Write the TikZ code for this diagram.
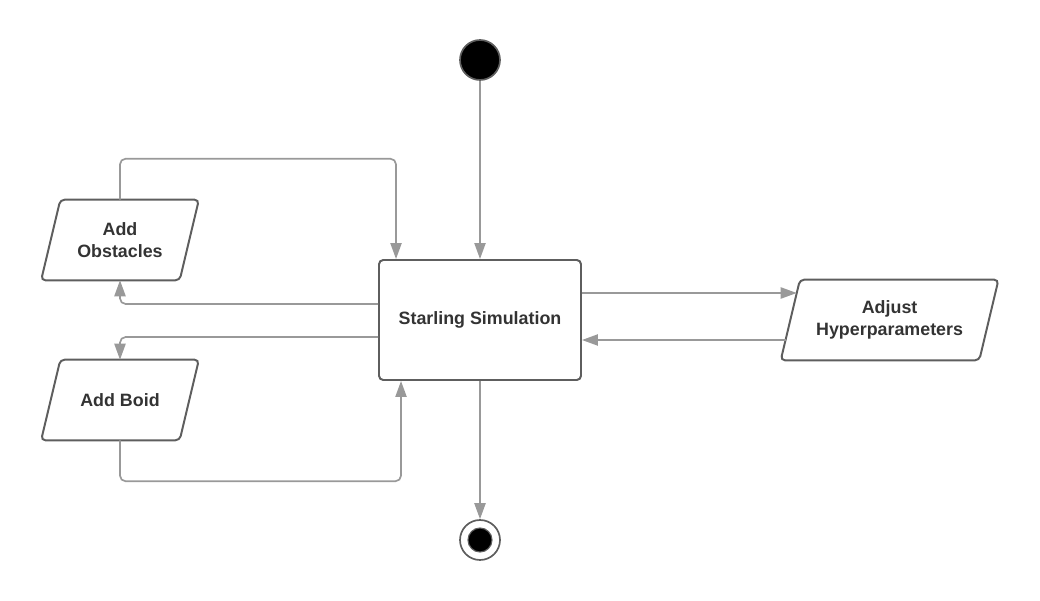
\documentclass[tikz,border=0pt]{standalone}
\usepackage{fontspec}
\setsansfont{Liberation Sans}
\usetikzlibrary{arrows.meta}
\definecolor{edgegray}{HTML}{999999}
\definecolor{boxgray}{HTML}{5E5E5E}
\definecolor{txtgray}{HTML}{333333}

\begin{document}
\begin{tikzpicture}[
    every node/.style={font=\sffamily\bfseries\fontsize{12.7}{15.5}\selectfont, text=txtgray, align=center},
    activity/.style={draw=boxgray, line width=1.4pt, rounded corners=3pt, minimum width=5.05cm, minimum height=3cm},
    io/.style={minimum height=2cm},
    iobox/.style={draw=boxgray, line width=1.4pt, rounded corners=3pt},
    flow/.style={draw=edgegray, line width=1.2pt, rounded corners=4pt, -{Triangle[length=0.4cm, width=0.28cm]}},
    ]
    \useasboundingbox (0,0) rectangle (26,15);
    \node[circle, fill=black, draw=boxgray, line width=1.2pt, minimum size=1cm, inner sep=0pt] (start) at (12,13.5) {};
    \node[activity] (sim) at (12,7) {Starling Simulation};
    \node[io, minimum width=3.45cm] (obst) at (3,9) {Add\\Obstacles};
    \node[io, minimum width=3.45cm] (boid) at (3,5) {Add Boid};
    \node[io, minimum width=4.95cm] (hyper) at (22.24,7) {Adjust\\Hyperparameters};
    \node[circle, draw=boxgray, fill=white, line width=1.2pt, minimum size=1cm, inner sep=0pt] (end) at (12,1.5) {};
    \node[circle, fill=black, draw=boxgray, line width=0.8pt, minimum size=0.6cm, inner sep=0pt] (enddot) at (end) {};

    % parallelogram outlines
    \foreach \n in {obst, boid, hyper}
        \draw[iobox] ([xshift=0.24cm]\n.north west) -- ([xshift=0.24cm]\n.north east)
            -- ([xshift=-0.24cm]\n.south east) -- ([xshift=-0.24cm]\n.south west) -- cycle;

    \draw[flow] (start) -- (sim);
    \draw[flow] (obst.north) -- ++(0,1.025) -| ([xshift=0.45cm]sim.north west);
    \draw[flow] ([yshift=0.4cm]sim.west) -| (obst.south);
    \draw[flow] ([yshift=-0.425cm]sim.west) -| (boid.north);
    \draw[flow] (boid.south) -- ++(0,-1.025) -| ([xshift=0.575cm]sim.south west);
    \draw[flow] ([yshift=0.675cm]sim.east) -- ([xshift=0.16cm, yshift=0.675cm]hyper.west);
    \draw[flow] ([xshift=-0.12cm, yshift=-0.5cm]hyper.west) -- ([yshift=-0.5cm]sim.east);
    \draw[flow] (sim) -- (end);
\end{tikzpicture}
\end{document}
